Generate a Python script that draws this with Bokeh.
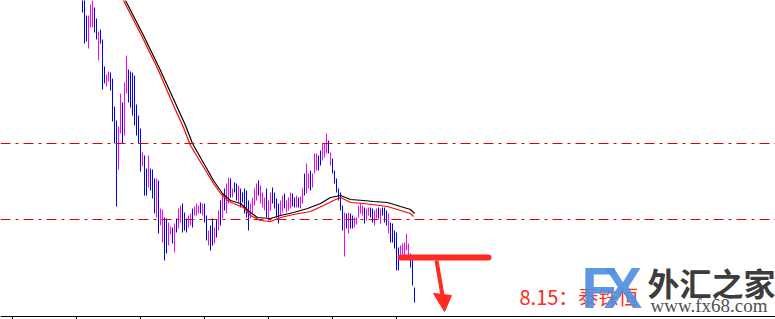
from bokeh.plotting import figure
from bokeh.models import Range1d, Span, ColumnDataSource
from bokeh.embed import file_html
from bokeh.resources import INLINE
from bokeh.core.properties import value

# ---------------- data ----------------
bar_dir = list(
    "BBBMMMBBMB" "BBMMBBBBMM" "BMMBBBBBBB" "MBBMBBBMBM" "MBBMMBMBMM"
    "BBBMMBMMMB" "MBBMBBMBMB" "MBMMBMBBMB" "BBBBMMMMBM" "MMBMMBBBBM"
    "MBMMMBBMBM" "MBMMBMMMBB" "MMMBMBBBBB" "BMBMBBMMMM" "MBMMBBMMBM"
    "BBBMBBBBBM" "MMMMBBB"
)
highs = [
    35.20, 35.05, 34.85, 34.85, 34.96, 35.05, 34.93, 34.82, 34.69, 34.71,
    34.61, 34.34, 34.26, 34.29, 34.28, 34.22, 33.94, 33.80, 33.74, 34.07,
    33.98, 34.18, 34.45, 34.31, 34.29, 34.28, 34.25, 33.96, 33.85, 33.72,
    33.48, 33.45, 33.32, 33.45, 33.32, 33.31, 33.22, 33.22, 33.20, 32.92,
    32.91, 32.83, 32.82, 32.78, 32.74, 32.73, 32.77, 32.82, 32.92, 32.95,
    32.97, 32.88, 32.82, 32.85, 32.87, 32.92, 32.94, 32.97, 32.95, 32.98,
    32.97, 32.97, 32.85, 32.70, 32.75, 32.82, 32.73, 32.81, 32.90, 33.00,
    33.07, 33.12, 33.17, 33.23, 33.22, 33.12, 33.18, 33.17, 33.15, 33.12,
    33.08, 33.12, 33.10, 33.00, 32.97, 33.03, 33.12, 33.17, 33.20, 33.15,
    33.08, 33.03, 33.12, 33.00, 33.08, 33.13, 33.08, 33.02, 32.97, 33.00,
    33.05, 33.07, 33.00, 33.03, 33.08, 33.07, 33.03, 33.05, 33.03, 33.04,
    33.12, 33.27, 33.37, 33.27, 33.30, 33.27, 33.47, 33.47, 33.45, 33.50,
    33.57, 33.57, 33.67, 33.60, 33.48, 33.42, 33.30, 33.22, 33.12, 33.08,
    32.95, 32.88, 32.87, 32.88, 32.87, 32.85, 32.83, 32.83, 32.95, 32.97,
    32.95, 32.93, 32.92, 32.93, 32.93, 32.92, 32.90, 32.92, 32.93, 32.92,
    32.93, 32.93, 32.90, 32.87, 32.78, 32.77, 32.70, 32.68, 32.53, 32.55,
    32.57, 32.58, 32.67, 32.57, 32.47, 32.45, 32.13,
]
lows = [
    34.88, 34.57, 34.59, 34.52, 34.73, 34.73, 34.68, 34.61, 34.40, 34.57,
    34.11, 34.17, 34.14, 34.19, 34.10, 33.79, 33.57, 32.94, 33.31, 33.67,
    33.57, 33.65, 34.07, 33.98, 33.93, 33.85, 33.75, 33.65, 33.57, 33.29,
    33.34, 33.05, 33.05, 33.13, 33.10, 33.02, 32.87, 32.83, 32.67, 32.75,
    32.58, 32.40, 32.47, 32.55, 32.66, 32.57, 32.48, 32.68, 32.72, 32.78,
    32.68, 32.70, 32.68, 32.73, 32.75, 32.73, 32.85, 32.85, 32.87, 32.87,
    32.85, 32.78, 32.60, 32.55, 32.50, 32.55, 32.57, 32.63, 32.70, 32.75,
    32.82, 32.90, 32.87, 32.97, 33.03, 33.03, 33.08, 33.00, 32.98, 32.93,
    32.98, 32.87, 32.83, 32.70, 32.82, 32.87, 32.95, 33.00, 33.05, 32.97,
    32.93, 32.90, 32.83, 32.80, 32.90, 32.97, 32.92, 32.83, 32.77, 32.85,
    32.88, 32.92, 32.88, 32.90, 32.92, 32.94, 32.93, 32.93, 32.93, 32.92,
    32.97, 33.05, 33.07, 33.12, 33.10, 33.13, 33.27, 33.30, 33.30, 33.35,
    33.40, 33.43, 33.47, 33.47, 33.35, 33.27, 33.17, 33.08, 33.00, 32.90,
    32.70, 32.44, 32.72, 32.67, 32.72, 32.72, 32.73, 32.76, 32.83, 32.87,
    32.85, 32.77, 32.80, 32.85, 32.83, 32.78, 32.75, 32.82, 32.82, 32.77,
    32.85, 32.78, 32.75, 32.67, 32.58, 32.58, 32.52, 32.30, 32.30, 32.45,
    32.43, 32.45, 32.50, 32.43, 32.33, 32.15, 31.98,
]
bar_index = list(range(len(highs)))

# moving averages read at sample bars
ma_black_x = [19, 21.5, 30.5, 39, 46.5, 51.5, 55, 65.5, 70, 74, 79, 84, 87.5, 94,
              99, 105.5, 112.5, 119, 124, 129, 134, 140.5, 145.5, 152.5, 159, 164, 166]
ma_black_y = [35.10, 35.00, 34.65, 34.30, 33.97, 33.75, 33.57, 33.20, 33.07, 33.00,
              32.97, 32.88, 32.83, 32.82, 32.85, 32.88, 32.92, 32.97, 33.03, 33.05,
              33.01, 33.00, 32.99, 32.98, 32.94, 32.91, 32.87]
ma_red_x = [18, 20.5, 29.5, 38, 45.5, 50.5, 54, 65.5, 69, 72.5, 75.5, 80.5, 84, 89,
            94, 99, 105.5, 114, 120.5, 125.5, 129, 134, 140.5, 152.5, 159, 164, 165.5]
ma_red_y = [35.10, 35.00, 34.65, 34.30, 33.95, 33.73, 33.55, 33.17, 33.07, 33.00,
            32.97, 32.93, 32.85, 32.80, 32.79, 32.83, 32.86, 32.89, 32.95, 33.00,
            33.03, 32.98, 32.97, 32.94, 32.90, 32.87, 32.84]

levels = [33.57, 32.81]                 # dash-dot horizontal levels
tick_bars = [-35, -3, 29, 61, 93, 125, 157]

signal_level = 32.43
signal_from, signal_to = 159, 203
arrow_x = [177, 180]
arrow_y = [32.40, 32.05]
arrow_head_x = [175.5, 184.5, 181]
arrow_head_y = [32.07, 32.05, 31.89]

note_text = "8.15：泰铢恒"
logo_letters = ["F", "X"]
logo_letter_x = [249.5, 260.5]
logo_cn = "外汇之家"
logo_url = "www.fx68.com"

# ---------------- figure ----------------
p = figure(width=775, height=319, output_backend="svg", toolbar_location=None,
           x_range=Range1d(-41.0, 346.5), y_range=Range1d(31.81, 35.00),
           min_border=0, min_border_left=0, min_border_right=0,
           min_border_top=0, min_border_bottom=0)
p.axis.visible = False
p.grid.visible = False
p.outline_line_color = None
p.background_fill_color = "white"
p.border_fill_color = "white"

for lv in levels:
    p.add_layout(Span(location=lv, dimension="width", line_color="#e00000",
                      line_width=1, line_dash="10 5 3 5"))

colors = ["#0000ff" if d == "B" else "#ff00ff" for d in bar_dir]
src = ColumnDataSource(dict(x=bar_index, hi=highs, lo=lows, c=colors))
p.segment(x0="x", y0="lo", x1="x", y1="hi", line_color="c", line_width=1, source=src)

p.line(ma_black_x, ma_black_y, line_color="black", line_width=1.2)
p.line(ma_red_x, ma_red_y, line_color="#ff0000", line_width=1.2)

# bottom time axis
axis_y = 31.84
p.add_layout(Span(location=axis_y, dimension="width", line_color="black", line_width=1))
p.segment(x0=tick_bars, y0=[axis_y] * len(tick_bars), x1=tick_bars,
          y1=[31.80] * len(tick_bars), line_color="black", line_width=1)

# signal line + arrow
p.segment(x0=[signal_from], y0=[signal_level], x1=[signal_to], y1=[signal_level],
          line_color="#ff2a20", line_width=6, line_cap="round")
p.line(arrow_x, arrow_y, line_color="#ff2a20", line_width=4)
p.patch(arrow_head_x, arrow_head_y, fill_color="#ff2a20", line_color="#ff2a20")

p.text(x=[218.5], y=[32.04], text=[note_text], text_color="#ff2a20",
       text_font=value("Noto Sans CJK SC"), text_font_size=value("20px"),
       text_baseline="alphabetic")

# watermark logo
p.text(x=logo_letter_x, y=[32.13, 32.13], text=logo_letters, text_color="#4f8ee0",
       text_font=value("Liberation Sans"), text_font_size=value("58px"),
       text_font_style="bold", text_baseline="alphabetic", text_alpha=0.9)
p.text(x=[282.5], y=[32.19], text=[logo_cn], text_color="#3c3c3c",
       text_font=value("Noto Sans CJK SC"), text_font_size=value("32px"),
       text_font_style="bold", text_baseline="alphabetic")
p.text(x=[284.0], y=[31.95], text=[logo_url], text_color="#505050",
       text_font=value("Liberation Serif"), text_font_size=value("19px"),
       text_baseline="alphabetic")

open("out.html", "w").write(file_html(p, INLINE))
